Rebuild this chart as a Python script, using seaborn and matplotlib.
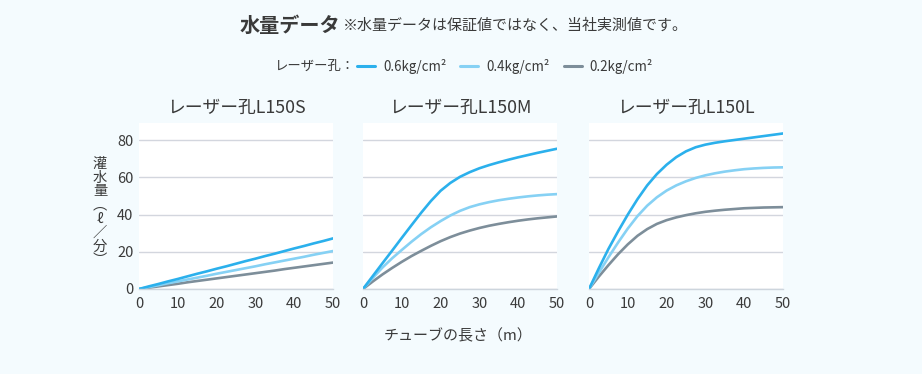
import numpy as np
import pandas as pd

# don't let matplotlib use xwindows
import matplotlib
matplotlib.use('Agg')
import matplotlib.pyplot as plt
from matplotlib.lines import Line2D
import seaborn as sns

sns.set_style("white")
plt.rcParams['font.family'] = ['Noto Sans CJK JP', 'DejaVu Sans']

# tube length (m)
lengths = [0, 2.5, 5, 7.5, 10, 12.5, 15, 17.5, 20, 22.5, 25,
           27.5, 30, 32.5, 35, 37.5, 40, 42.5, 45, 47.5, 50]

# flow (l/min), per nozzle model and pressure
s_06 = [0, 1.4, 2.7, 4.1, 5.4, 6.8, 8.2, 9.5, 10.9, 12.2, 13.6,
        15.0, 16.3, 17.7, 19.0, 20.4, 21.8, 23.1, 24.5, 25.8, 27.2]
s_04 = [0, 1.0, 2.0, 3.1, 4.1, 5.1, 6.1, 7.1, 8.2, 9.2, 10.2,
        11.2, 12.2, 13.3, 14.3, 15.3, 16.3, 17.3, 18.4, 19.4, 20.4]
s_02 = [0, 0.7, 1.4, 2.1, 2.8, 3.6, 4.3, 5.0, 5.7, 6.4, 7.1,
        7.8, 8.5, 9.2, 9.9, 10.7, 11.4, 12.1, 12.8, 13.5, 14.2]

m_06 = [0, 6.9, 13.8, 20.6, 27.5, 34.3, 41.0, 47.3, 52.8, 57.0, 60.3,
        62.8, 64.9, 66.6, 68.1, 69.5, 70.8, 72.0, 73.2, 74.3, 75.4]
m_04 = [0, 5.9, 11.5, 16.5, 21.0, 25.4, 29.5, 33.2, 36.5, 39.5, 42.0,
        44.0, 45.5, 46.7, 47.7, 48.5, 49.2, 49.8, 50.3, 50.7, 51.0]
m_02 = [0, 4.0, 7.8, 11.3, 14.6, 17.7, 20.5, 23.2, 25.7, 27.9, 29.8,
        31.4, 32.8, 34.0, 35.0, 35.9, 36.7, 37.4, 38.0, 38.5, 39.0]

l_06 = [0, 11.0, 21.5, 31.0, 40.0, 48.3, 55.7, 61.8, 66.8, 70.9, 74.0,
        76.2, 77.6, 78.6, 79.4, 80.1, 80.8, 81.5, 82.2, 82.9, 83.6]
l_04 = [0, 8.6, 17.0, 25.0, 32.5, 39.2, 44.8, 49.3, 52.9, 55.7, 57.9,
        59.7, 61.1, 62.2, 63.1, 63.8, 64.4, 64.8, 65.1, 65.3, 65.4]
l_02 = [0, 6.6, 12.8, 18.7, 24.0, 28.6, 32.2, 35.0, 37.0, 38.5, 39.7,
        40.7, 41.5, 42.1, 42.6, 43.0, 43.4, 43.6, 43.8, 43.9, 44.0]

pressures = ['0.6kg/cm²', '0.4kg/cm²', '0.2kg/cm²']
models = ['レーザー孔L150S', 'レーザー孔L150M', 'レーザー孔L150L']
flows = {
    models[0]: [s_06, s_04, s_02],
    models[1]: [m_06, m_04, m_02],
    models[2]: [l_06, l_04, l_02],
}

colors = {'0.6kg/cm²': '#2bb0ec', '0.4kg/cm²': '#86d1f4', '0.2kg/cm²': '#7d8e9a'}
bg = '#f4fbfe'
text_col = '#3a3a3a'

rows = []
for model in models:
    for p, vals in zip(pressures, flows[model]):
        for x, y in zip(lengths, vals):
            rows.append({'model': model, 'pressure': p, 'length': x, 'flow': y})
df = pd.DataFrame(rows)

fig = plt.figure(figsize=(9.22, 3.74), dpi=100, facecolor=bg)
lefts = [139, 363, 589]
for i, (model, left) in enumerate(zip(models, lefts)):
    ax = fig.add_axes([left / 922, 1 - 289 / 374, 194 / 922, (289 - 122.5) / 374])
    ax.set_facecolor('white')
    sns.lineplot(data=df[df['model'] == model], x='length', y='flow',
                 hue='pressure', hue_order=pressures[::-1], palette=colors,
                 linewidth=1.9, legend=False, ax=ax,
                 solid_joinstyle='round', solid_capstyle='round')
    ax.set_xlim(0, 50)
    ax.set_ylim(0, 89.5)
    ax.set_xticks([0, 10, 20, 30, 40, 50])
    ax.set_yticks([0, 20, 40, 60, 80])
    ax.grid(axis='y', color='#d3d6de', linewidth=1)
    ax.set_axisbelow(True)
    for side in ['top', 'right', 'left']:
        ax.spines[side].set_visible(False)
    ax.spines['bottom'].set_color('#cdd5dd')
    ax.spines['bottom'].set_linewidth(1)
    ax.tick_params(axis='x', length=4, width=1, color='#cdd5dd',
                   labelsize=10.5, labelcolor=text_col, pad=1.5)
    ax.tick_params(axis='y', length=0, labelsize=10.5, labelcolor=text_col, pad=4)
    if i > 0:
        ax.set_yticklabels([])
    ax.set_xlabel('')
    ax.set_ylabel('')
    ax.set_title(model, fontsize=12.8, color=text_col, pad=7)

# vertical y label
fig.text(100 / 922, 1 - 212 / 374, '灌\n水\n量\n︵\nℓ\n／\n分\n︶', ha='center', va='center',
         fontsize=10.3, color=text_col, linespacing=0.98)
fig.text(458 / 922, 1 - 336 / 374, 'チューブの長さ（m）', ha='center', va='center',
         fontsize=10.8, color=text_col)

# header
fig.text(240 / 922, 1 - 25 / 374, '水量データ', ha='left', va='center',
         fontsize=14.5, fontweight='bold', color=text_col)
fig.text(343 / 922, 1 - 26 / 374, '※水量データは保証値ではなく、当社実測値です。', ha='left',
         va='center', fontsize=10.8, color=text_col)

# legend
fig.text(274 / 922, 1 - 66 / 374, 'レーザー孔：', ha='left', va='center',
         fontsize=9.6, color=text_col)
handles = [Line2D([], [], color=colors[p], linewidth=2.2, label=p) for p in pressures]
fig.legend(handles=handles, ncol=3, frameon=False, loc='center left',
           bbox_to_anchor=(353 / 922, 1 - 66 / 374), fontsize=9.6, handlelength=1.35,
           handletextpad=0.6, columnspacing=1.05, labelcolor=text_col,
           borderaxespad=0, borderpad=0.3)

fig.savefig('out.png', dpi=100, facecolor=bg)
plt.close()
